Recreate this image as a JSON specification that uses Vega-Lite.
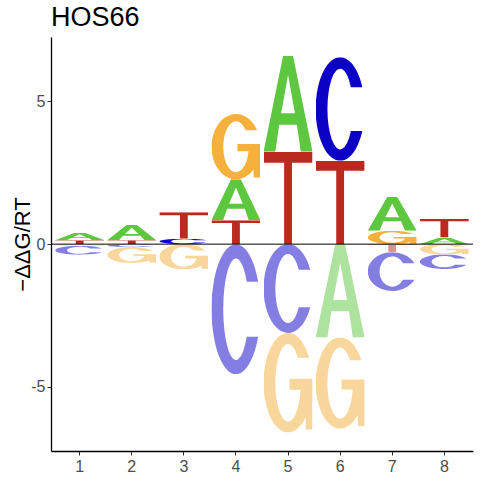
{
  "$schema": "https://vega.github.io/schema/vega-lite/v6.json",
  "width": 422,
  "height": 414,
  "autosize": "none",
  "padding": {"left": 51, "top": 37, "right": 7, "bottom": 29},
  "background": "white",
  "config": {"view": {"stroke": null}, "font": "Liberation Sans"},
  "title": {
    "text": "HOS66",
    "anchor": "start",
    "frame": "group",
    "fontSize": 27,
    "fontWeight": "normal",
    "font": "Liberation Sans",
    "color": "black",
    "offset": 5
  },
  "layer": [
    {
      "data": {
        "values": [
          {"pos": 1, "letter": "T", "v": 0.14, "k": 1},
          {"pos": 1, "letter": "A", "v": 0.26, "k": 2},
          {"pos": 1, "letter": "G", "v": -0.06, "k": 1},
          {"pos": 1, "letter": "C", "v": -0.31, "k": 2},
          {"pos": 2, "letter": "T", "v": 0.14, "k": 1},
          {"pos": 2, "letter": "A", "v": 0.54, "k": 2},
          {"pos": 2, "letter": "C", "v": -0.10, "k": 1},
          {"pos": 2, "letter": "G", "v": -0.56, "k": 2},
          {"pos": 3, "letter": "C", "v": 0.19, "k": 1},
          {"pos": 3, "letter": "T", "v": 0.93, "k": 2},
          {"pos": 3, "letter": "G", "v": -0.89, "k": 1},
          {"pos": 4, "letter": "T", "v": 0.84, "k": 1},
          {"pos": 4, "letter": "A", "v": 1.43, "k": 2},
          {"pos": 4, "letter": "G", "v": 2.29, "k": 3},
          {"pos": 4, "letter": "C", "v": -4.56, "k": 1},
          {"pos": 5, "letter": "T", "v": 3.24, "k": 1},
          {"pos": 5, "letter": "A", "v": 3.37, "k": 2},
          {"pos": 5, "letter": "C", "v": -3.11, "k": 1},
          {"pos": 5, "letter": "G", "v": -3.49, "k": 2},
          {"pos": 6, "letter": "T", "v": 2.92, "k": 1},
          {"pos": 6, "letter": "C", "v": 3.63, "k": 2},
          {"pos": 6, "letter": "A", "v": -3.27, "k": 1},
          {"pos": 6, "letter": "G", "v": -3.20, "k": 2},
          {"pos": 7, "letter": "G", "v": 0.47, "k": 1},
          {"pos": 7, "letter": "A", "v": 1.19, "k": 2},
          {"pos": 7, "letter": "T", "v": -0.28, "k": 1},
          {"pos": 7, "letter": "C", "v": -1.36, "k": 2},
          {"pos": 8, "letter": "A", "v": 0.23, "k": 1},
          {"pos": 8, "letter": "T", "v": 0.65, "k": 2},
          {"pos": 8, "letter": "G", "v": -0.36, "k": 1},
          {"pos": 8, "letter": "C", "v": -0.51, "k": 2}
        ]
      },
      "transform": [
        {"stack": "v", "groupby": ["pos"], "sort": [{"field": "k", "order": "ascending"}], "as": ["y0", "y1"]}
      ],
      "mark": {"type": "image", "aspect": false},
      "encoding": {
        "x": {
          "field": "pos",
          "type": "ordinal",
          "scale": {"paddingInner": 0.06, "paddingOuter": 0.08},
          "axis": {
            "title": null,
            "labelAngle": 0,
            "bandPosition": 0.5,
            "grid": false,
            "domainColor": "black",
            "domainWidth": 1.3,
            "tickColor": "#333333",
            "tickSize": 4,
            "tickWidth": 1,
            "labelColor": "#4D4D4D",
            "labelFontSize": 16,
            "labelFont": "Liberation Sans",
            "labelPadding": 3
          }
        },
        "y": {
          "field": "y0",
          "type": "quantitative",
          "scale": {"domain": [-7.25, 7.26], "nice": false, "zero": false},
          "axis": {
            "values": [-5, 0, 5],
            "labelExpr": "datum.value",
            "title": "−ΔΔG/RT",
            "titleFontSize": 22,
            "titleFont": "Liberation Sans",
            "titleFontWeight": "normal",
            "titleColor": "black",
            "titleBaseline": "alphabetic",
            "titlePadding": 1,
            "grid": false,
            "domainColor": "black",
            "domainWidth": 1.3,
            "tickColor": "#333333",
            "tickSize": 4,
            "tickWidth": 1,
            "labelColor": "#4D4D4D",
            "labelFontSize": 16,
            "labelFont": "Liberation Sans",
            "labelPadding": 2
          }
        },
        "y2": {"field": "y1"},
        "url": {
          "condition": [
            {"test": "datum.letter === 'A'", "value": "data:image/svg+xml,<svg xmlns='http://www.w3.org/2000/svg' viewBox='0 0 100 100' preserveAspectRatio='none'><path fill='%235DC83F' fill-rule='evenodd' d='M0 100L40 0H60L100 100H76L68 72H32L24 100ZM36 60H64L50 20Z'/></svg>"},
            {"test": "datum.letter === 'C'", "value": "data:image/svg+xml,<svg xmlns='http://www.w3.org/2000/svg' viewBox='0 0 100 100' preserveAspectRatio='none'><path fill='%230C00C6' d='M95.3 28.9A50 50 0 1 0 95.3 71.1L71.9 71.1A26 39 0 1 1 71.9 28.9Z'/></svg>"},
            {"test": "datum.letter === 'G'", "value": "data:image/svg+xml,<svg xmlns='http://www.w3.org/2000/svg' viewBox='0 0 100 100' preserveAspectRatio='none'><path fill='%23F5B13C' d='M93.3 25A50 50 0 1 0 86 84.7L86 97L100 97L100 46L53 46L53 57L75.6 57A26 39 0 1 1 69.9 25Z'/></svg>"}
          ],
          "value": "data:image/svg+xml,<svg xmlns='http://www.w3.org/2000/svg' viewBox='0 0 100 100' preserveAspectRatio='none'><path fill='%23BA2A1E' d='M0 0H100V12H58V100H42V12H0Z'/></svg>"
        },
        "opacity": {"condition": {"test": "datum.v < 0", "value": 0.5}, "value": 1}
      }
    },
    {
      "data": {"values": [{"zero": 0}]},
      "mark": {"type": "rule", "color": "black", "strokeWidth": 1},
      "encoding": {"y": {"field": "zero", "type": "quantitative"}}
    }
  ]
}
